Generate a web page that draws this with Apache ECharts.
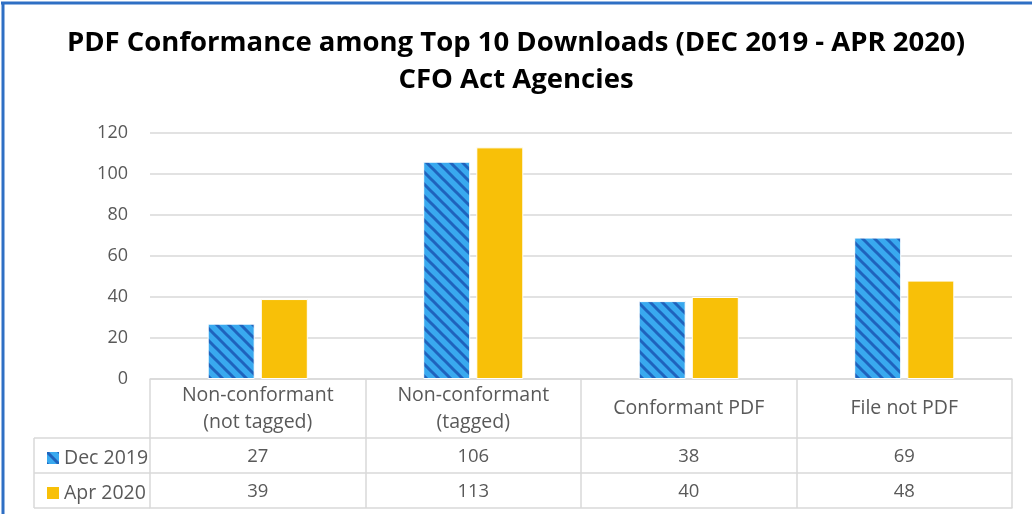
<!DOCTYPE html>
<html>
<head>
<meta charset="utf-8">
<script src="https://cdn.jsdelivr.net/npm/echarts@6/dist/echarts.min.js"></script>
<style>
  html, body { margin: 0; padding: 0; background: #fff; }
  #main { width: 1032px; height: 514px; }
</style>
</head>
<body>
<div id="main"></div>
<script>
// data
var categories = ['Non-conformant\n(not tagged)', 'Non-conformant\n(tagged)', 'Conformant PDF', 'File not PDF'];
var seriesNames = ['Dec 2019', 'Apr 2020'];
var dec2019 = [27, 106, 38, 69];
var apr2020 = [39, 113, 40, 48];
var yMin = 0, yMax = 120, yStep = 20;

var FONT = '"Open Sans", sans-serif';
var GREY = '#595959';
var LINE = '#d9d9d9';

// diagonal stripe fill like the excel pattern
function stripeCanvas() {
  var c = document.createElement('canvas');
  c.width = 12; c.height = 12;
  var g = c.getContext('2d');
  g.fillStyle = '#39a9ef';
  g.fillRect(0, 0, 12, 12);
  g.strokeStyle = '#1f63bd';
  g.lineWidth = 3;
  for (var k = -1; k <= 1; k++) {
    g.beginPath();
    g.moveTo(k * 12 - 2, -2);
    g.lineTo(k * 12 + 14, 14);
    g.stroke();
  }
  return c;
}
var stripe = { image: stripeCanvas(), repeat: 'repeat' };

// table rows under the plot are extra category axes pushed down with offset
function rowAxis(data, offset, showLabel) {
  return {
    type: 'category',
    position: 'bottom',
    offset: offset,
    data: data,
    axisLine: { show: true, lineStyle: { color: LINE, width: 1.5 } },
    axisTick: { show: false },
    axisLabel: {
      show: showLabel,
      interval: 0,
      margin: 19,
      verticalAlign: 'middle',
      fontFamily: FONT,
      fontSize: 18.5,
      color: GREY
    }
  };
}

var option = {
  backgroundColor: '#fff',
  animation: false,
  title: {
    text: 'PDF Conformance among Top 10 Downloads (DEC 2019 - APR 2020)\nCFO Act Agencies',
    left: 'center',
    top: 20,
    textStyle: {
      fontFamily: FONT,
      fontWeight: 'bold',
      fontSize: 27.5,
      lineHeight: 37,
      color: '#000'
    }
  },
  legend: {
    orient: 'vertical',
    left: 42,
    top: 443,
    itemWidth: 12,
    itemHeight: 12,
    itemGap: 15,
    icon: 'rect',
    itemStyle: { borderWidth: 0 },
    textStyle: { fontFamily: FONT, fontSize: 19.5, color: GREY, lineHeight: 20 },
    data: seriesNames
  },
  grid: { left: 150, right: 20, top: 133, bottom: 135 },
  xAxis: [
    {
      type: 'category',
      data: categories,
      axisLine: { show: true, lineStyle: { color: LINE, width: 1.5 } },
      axisTick: { show: true, interval: 0, length: 129, lineStyle: { color: LINE, width: 1.5 } },
      axisLabel: {
        interval: 0,
        margin: 29.5,
        verticalAlign: 'middle',
        lineHeight: 27,
        fontFamily: FONT,
        fontSize: 19.5,
        color: GREY
      }
    },
    rowAxis(dec2019.map(String), 59, true),
    rowAxis(apr2020.map(String), 94, true),
    rowAxis(categories, 129, false)
  ],
  yAxis: {
    type: 'value',
    min: yMin,
    max: yMax,
    interval: yStep,
    axisLine: { show: false },
    axisTick: { show: false },
    axisLabel: { margin: 22, fontFamily: FONT, fontSize: 18, color: GREY },
    splitLine: { lineStyle: { color: LINE, width: 1.5 } }
  },
  series: [
    {
      name: seriesNames[0],
      type: 'bar',
      data: dec2019,
      barWidth: 47,
      barGap: '13%',
      itemStyle: { color: stripe, borderColor: '#ffffff', borderWidth: 1 }
    },
    {
      name: seriesNames[1],
      type: 'bar',
      data: apr2020,
      barWidth: 47,
      barGap: '13%',
      itemStyle: { color: '#f8c008', borderColor: '#ffffff', borderWidth: 1 }
    }
  ],
  graphic: [
    // outer blue frame (only top and left visible in the crop)
    { type: 'line', shape: { x1: 1, y1: 3, x2: 1032, y2: 3 }, style: { stroke: '#2e6fc4', lineWidth: 3 } },
    { type: 'line', shape: { x1: 3, y1: 2, x2: 3, y2: 514 }, style: { stroke: '#2e6fc4', lineWidth: 3 } },
    // legend column of the data table
    { type: 'line', shape: { x1: 34, y1: 438, x2: 150, y2: 438 }, style: { stroke: LINE, lineWidth: 1.5 } },
    { type: 'line', shape: { x1: 34, y1: 473, x2: 150, y2: 473 }, style: { stroke: LINE, lineWidth: 1.5 } },
    { type: 'line', shape: { x1: 34, y1: 508, x2: 150, y2: 508 }, style: { stroke: LINE, lineWidth: 1.5 } },
    { type: 'line', shape: { x1: 34, y1: 438, x2: 34, y2: 508 }, style: { stroke: LINE, lineWidth: 1.5 } }
  ]
};

var chart = echarts.init(document.getElementById('main'));
chart.setOption(option);
</script>
</body>
</html>
